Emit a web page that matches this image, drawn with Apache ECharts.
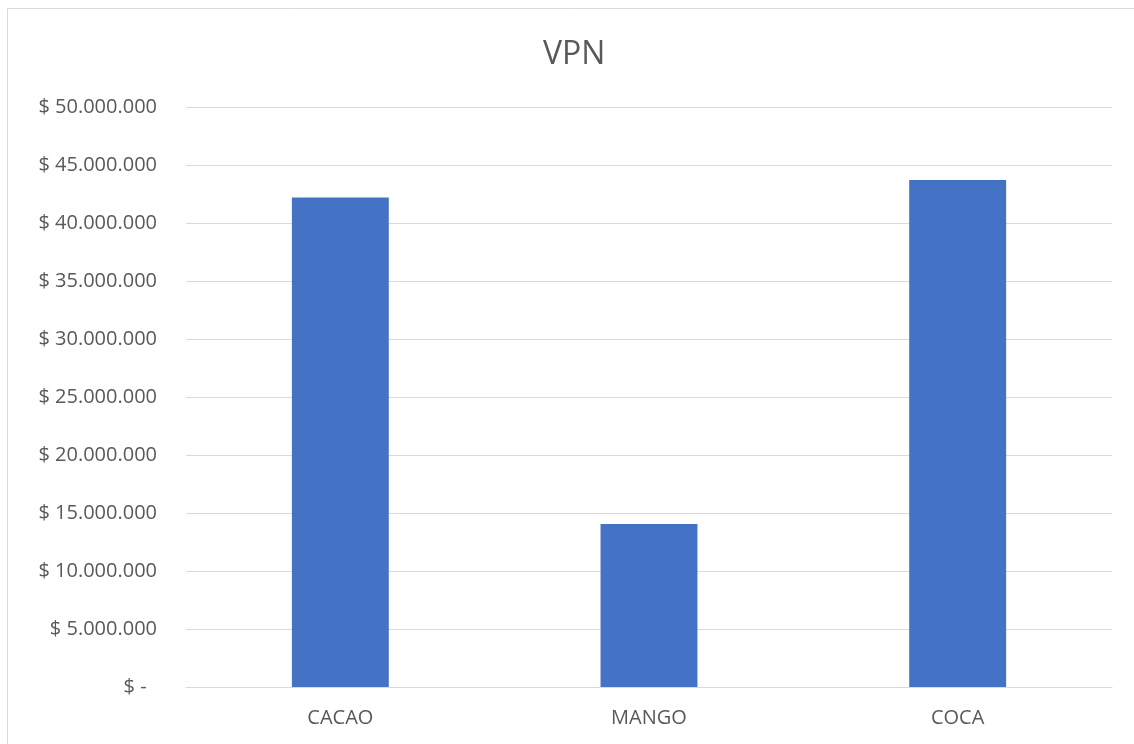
<!DOCTYPE html>
<html>
<head>
<meta charset="utf-8">
<script src="https://cdn.jsdelivr.net/npm/echarts@6/dist/echarts.min.js"></script>
<style>
  html, body { margin: 0; padding: 0; background: #fff; }
  #chart { width: 1134px; height: 744px; }
</style>
</head>
<body>
<div id="chart"></div>
<script>
// datos del grafico
const categories = ['CACAO', 'MANGO', 'COCA']
const vpnValues = [42200000, 14050000, 43700000]

const chart = echarts.init(document.getElementById('chart'))

// formato moneda estilo contable
function money(v) {
  if (v === 0) return '$ -  '
  return '$ ' + String(v).replace(/\B(?=(\d{3})+(?!\d))/g, '.')
}

const option = {
  backgroundColor: '#ffffff',
  animation: false,
  textStyle: { fontFamily: 'Open Sans, Liberation Sans, sans-serif' },
  graphic: [
    {
      type: 'rect',
      shape: { x: 7.5, y: 8.5, width: 1140, height: 760 },
      style: { fill: 'none', stroke: '#d9d9d9', lineWidth: 1 },
      silent: true
    }
  ],
  title: {
    text: 'VPN',
    left: 538,
    top: 34,
    textStyle: { fontSize: 32, fontWeight: 'normal', color: '#595959' }
  },
  grid: { left: 186, right: 22, top: 107, bottom: 57 },
  xAxis: {
    type: 'category',
    data: categories,
    axisLine: { lineStyle: { color: '#d9d9d9' } },
    axisTick: { show: false },
    axisLabel: { color: '#595959', fontSize: 20, margin: 21 }
  },
  yAxis: {
    type: 'value',
    min: 0,
    max: 50000000,
    interval: 5000000,
    axisLine: { show: false },
    axisTick: { show: false },
    splitLine: { lineStyle: { color: '#d9d9d9' } },
    axisLabel: { color: '#595959', fontSize: 20, margin: 29, formatter: money }
  },
  series: [
    {
      name: 'VPN',
      type: 'bar',
      data: vpnValues,
      barWidth: '31.4%',
      itemStyle: { color: '#4472c4' }
    }
  ]
}
chart.setOption(option)
</script>
</body>
</html>
